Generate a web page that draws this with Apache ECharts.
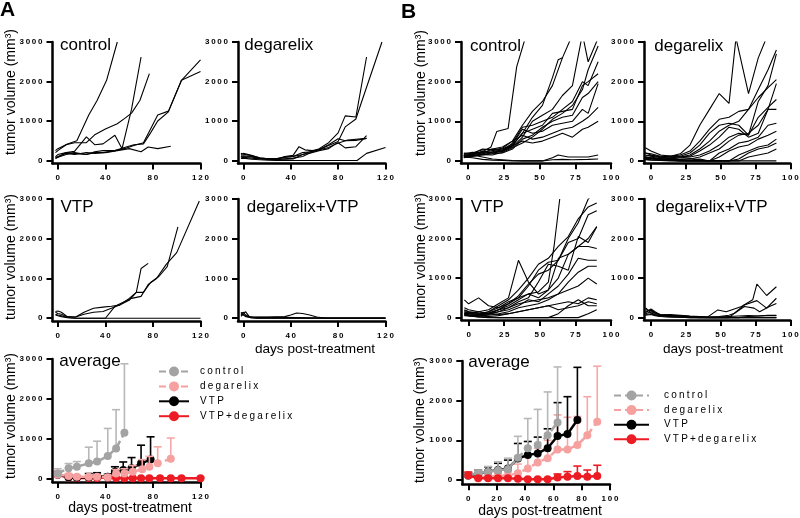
<!DOCTYPE html>
<html><head><meta charset="utf-8">
<script src="https://cdn.jsdelivr.net/npm/echarts@6.0.0/dist/echarts.min.js"></script>
<style>html,body{margin:0;padding:0;background:#fff}#c{width:800px;height:518px}</style>
</head><body><div id="c"></div>
<script>
// ---------------- DATA ----------------
// Panel A individual tumours: each entry = one mouse, [day, volume]
const aControl = [
 [[-2,250],[0,300],[8,420],[16,500],[26,1150],[33,1520],[41,2030],[50,3000]],
 [[-2,200],[0,250],[7,400],[14,450],[24,450],[31,650],[40,800],[50,930],[56,1060],[62,1200],[69,1520],[77,2200]],
 [[-2,100],[0,150],[7,200],[14,230],[24,600],[31,400],[38,420],[48,640],[54,300],[62,1300],[70,2620]],
 [[-2,80],[0,100],[7,180],[14,150],[24,200],[31,180],[38,200],[48,250],[56,300],[64,380],[72,450],[78,800],[84,1150],[93,1250],[104,2030],[120,2550]],
 [[-2,50],[0,80],[7,150],[14,200],[24,150],[31,220],[38,250],[48,250],[56,330],[64,400],[72,420],[78,700],[84,1000],[93,1230],[104,2030],[120,2250]],
 [[-2,60],[0,80],[7,200],[14,180],[24,150],[31,200],[40,200],[50,250],[60,300],[70,220],[76,340],[84,300],[95,360]]
];
const aDegarelix = [
 [[-2,150],[0,180],[7,130],[14,60],[21,40],[28,40],[35,80],[42,100],[50,200],[57,220],[64,300],[72,450],[80,700],[86,1130],[95,1100],[104,2620]],
 [[-2,100],[0,120],[7,100],[14,50],[21,40],[28,50],[35,90],[42,100],[50,150],[57,230],[64,280],[72,380],[80,480],[86,850],[95,1050],[100,1500],[117,3000]],
 [[-2,180],[0,160],[7,120],[14,70],[21,40],[28,30],[35,100],[42,130],[47,350],[52,270],[58,250],[64,280],[72,400],[80,550],[86,500],[95,510],[104,560]],
 [[-2,60],[0,80],[7,60],[14,40],[21,30],[28,20],[35,40],[42,60],[50,100],[57,200],[64,270],[72,330],[80,450],[86,320],[95,350],[104,630]],
 [[-2,120],[0,100],[7,90],[14,50],[21,40],[28,40],[35,30],[42,40],[50,150],[57,190],[64,250],[72,300],[78,420],[88,520],[104,560]],
 [[-2,50],[0,60],[7,30],[14,20],[21,10],[28,0],[96,0],[104,180],[120,330]]
];
const aVtp = [
 [[-2,170],[0,180],[3,150],[8,40],[15,30],[22,150],[30,250],[38,280],[45,300],[52,330],[60,500],[66,650],[70,1250],[76,1380]],
 [[-2,150],[0,120],[3,100],[8,30],[15,30],[22,100],[30,150],[38,170],[45,250],[52,330],[60,450],[66,650],[72,650],[78,900],[85,1050],[92,1300],[101,2300]],
 [[-2,100],[0,80],[3,60],[8,20],[15,0],[40,0],[48,300],[55,400],[62,500],[70,550],[76,850],[83,1000],[91,1350],[100,1650],[119,2950]],
 [[-2,80],[0,60],[3,40],[8,10],[15,0],[120,0]]
];
const aCombo = [
 [[-2,120],[0,150],[2,80],[6,30],[20,30],[35,40],[40,80],[45,130],[50,120],[56,80],[62,30],[70,0],[120,0]],
 [[-2,80],[0,130],[2,160],[5,40],[10,20],[30,20],[60,10],[120,10]],
 [[-2,50],[0,100],[2,60],[6,10],[12,0],[120,0]],
 [[-2,150],[0,80],[2,40],[7,10],[12,0],[120,0]]
];
// Panel B individual tumours
const bControl = [
 [[-3,130],[3,170],[10,230],[16,350],[20,740],[28,820],[34,2380],[40,3100]],
 [[-3,120],[3,160],[10,200],[17,220],[24,260],[31,380],[38,700],[45,1100],[52,1400],[59,2100],[63,2550],[66,2600]],
 [[-3,200],[3,180],[10,300],[17,280],[24,320],[31,500],[38,900],[45,1250],[52,1500],[59,1900],[66,2600],[72,3100]],
 [[-3,100],[3,150],[10,250],[17,200],[24,250],[31,350],[38,600],[45,1000],[52,1150],[59,1300],[66,1650],[73,1900],[80,3200],[84,2500],[91,3100]],
 [[-3,180],[3,220],[10,200],[17,300],[24,250],[31,450],[38,850],[45,900],[52,1000],[59,1100],[66,1300],[73,1500],[80,2000],[84,1900],[91,2500]],
 [[-3,150],[3,130],[10,180],[17,230],[24,280],[31,400],[38,700],[45,800],[52,900],[59,1200],[66,1250],[73,1300],[80,1900],[84,2000],[91,2200]],
 [[-3,80],[3,120],[10,150],[17,180],[24,200],[31,300],[38,550],[45,650],[52,850],[59,1000],[66,1100],[73,1150],[80,1600],[84,1700],[91,2000]],
 [[-3,130],[3,180],[10,220],[17,260],[24,300],[31,420],[38,800],[45,700],[52,750],[59,900],[66,950],[73,1000],[80,1300],[84,1200],[91,1950]],
 [[-3,160],[3,200],[10,280],[17,300],[24,350],[31,500],[38,650],[45,550],[52,600],[59,700],[66,800],[73,850],[80,1000],[84,1100],[91,1350]],
 [[-3,110],[3,140],[10,170],[17,200],[24,240],[31,380],[38,500],[45,450],[52,500],[59,600],[66,700],[73,600],[80,800],[84,850],[91,1000]],
 [[-3,90],[3,110],[10,160],[17,150],[24,220],[31,330],[38,450],[45,600],[52,800],[59,1050],[66,1200],[73,1400],[80,1800],[84,2300],[91,2900]],
 [[-3,140],[3,150],[10,100],[17,50],[24,30],[31,10],[38,0],[45,0],[52,0],[59,80],[63,150],[70,100],[77,100],[84,100],[91,150]],
 [[-3,100],[3,80],[10,40],[17,20],[24,10],[31,0],[38,0],[52,0],[59,30],[66,40],[73,30],[84,40],[91,50]]
];
const bDegarelix = [
 [[-4,200],[0,150],[7,100],[14,120],[21,180],[28,400],[35,900],[42,1300],[49,1700],[56,1450],[61,3100],[70,1700],[77,2600],[84,3200]],
 [[-4,330],[0,250],[7,150],[14,120],[21,150],[28,250],[35,500],[42,800],[49,1050],[56,1100],[63,1250],[70,1300],[77,1800],[84,2300],[90,2800]],
 [[-4,150],[0,120],[7,80],[14,100],[21,120],[28,200],[35,400],[42,700],[49,900],[56,950],[63,900],[70,650],[77,1500],[84,1900],[90,2700]],
 [[-4,200],[0,180],[7,120],[14,100],[21,100],[28,150],[35,300],[42,500],[49,750],[56,900],[63,1000],[70,1300],[77,1600],[84,1850],[90,2050]],
 [[-4,100],[0,80],[7,60],[14,80],[21,100],[28,120],[35,250],[42,400],[49,600],[56,850],[63,800],[70,600],[77,700],[84,1300],[90,1950]],
 [[-4,120],[0,150],[7,100],[14,50],[21,80],[28,100],[35,150],[42,250],[49,400],[56,600],[63,700],[70,650],[77,1100],[84,1350],[90,1550]],
 [[-4,80],[0,100],[7,50],[14,60],[21,40],[28,50],[35,100],[42,200],[49,300],[56,500],[63,650],[70,700],[77,900],[84,1300],[90,1300]],
 [[-4,60],[0,50],[7,40],[14,30],[21,20],[28,20],[35,50],[42,0],[49,200],[56,300],[63,450],[70,500],[77,600],[84,900],[90,950]],
 [[-4,50],[0,60],[7,30],[14,20],[21,10],[28,0],[42,0],[49,100],[56,250],[63,350],[70,400],[77,550],[84,650],[90,750]],
 [[-4,90],[0,70],[7,50],[14,30],[21,40],[28,60],[35,30],[42,0],[56,0],[63,150],[70,250],[77,350],[84,400],[90,550]],
 [[-4,40],[0,30],[7,20],[14,10],[21,0],[56,0],[63,50],[70,200],[77,300],[84,350],[90,450]],
 [[-4,70],[0,60],[7,30],[14,20],[21,0],[63,0],[70,100],[77,150],[84,200],[90,300]],
 [[-4,30],[0,20],[7,10],[14,0],[90,0]]
];
const bVtp = [
 [[-3,100],[0,120],[7,150],[14,200],[21,350],[28,500],[35,1450],[42,900],[49,600],[56,700],[63,1500],[70,1600],[77,1800],[84,2000],[90,2300]],
 [[-3,150],[0,100],[7,80],[14,150],[21,250],[28,350],[35,500],[42,600],[49,650],[56,900],[60,1800],[64,3000]],
 [[-3,450],[0,350],[7,500],[14,300],[21,250],[28,400],[35,500],[42,800],[49,1200],[56,1400],[63,1450],[70,2000],[77,2400],[84,3000],[90,3200]],
 [[-3,200],[0,150],[7,100],[14,150],[21,300],[28,450],[35,700],[42,1000],[49,1350],[56,1500],[63,1800],[70,2050],[77,2500],[84,2800],[90,2900]],
 [[-3,150],[0,120],[7,80],[14,100],[21,200],[28,350],[35,550],[42,850],[49,1100],[56,1200],[63,1450],[70,1900],[77,2000],[84,2600],[90,2700]],
 [[-3,100],[0,80],[7,60],[14,100],[21,150],[28,250],[35,400],[42,500],[49,900],[56,1350],[63,1300],[70,1200],[77,2050],[84,1900],[90,2300]],
 [[-3,120],[0,100],[7,80],[14,120],[21,200],[28,300],[35,450],[42,600],[49,500],[56,700],[63,1000],[70,1600],[77,1800],[84,1800],[90,1750]],
 [[-3,80],[0,60],[7,50],[14,80],[21,150],[28,200],[35,300],[42,450],[49,400],[56,600],[63,800],[70,1100],[77,1500],[84,1450],[90,1450]],
 [[-3,180],[0,150],[7,120],[14,100],[21,200],[28,250],[35,350],[42,400],[49,450],[56,500],[63,600],[70,900],[77,1150],[84,1300],[90,1300]],
 [[-3,60],[0,50],[7,40],[14,60],[21,100],[28,150],[35,250],[42,300],[49,350],[56,450],[63,600],[70,700],[77,800],[84,1000],[90,850]],
 [[-3,250],[0,200],[7,150],[14,100],[21,80],[28,100],[35,150],[42,200],[49,250],[56,300],[63,350],[70,400],[77,350],[84,500],[90,450]],
 [[-3,100],[0,60],[7,40],[14,30],[21,50],[28,100],[35,150],[42,200],[49,250],[56,300],[63,200],[70,250],[77,300],[84,400],[90,350]],
 [[-3,50],[0,40],[7,20],[14,10],[21,0],[56,0],[63,100],[70,300],[77,450],[84,300],[90,300]],
 [[-3,80],[0,50],[7,20],[14,0],[77,0],[84,100],[90,200]]
];
const bCombo = [
 [[-4,120],[0,220],[3,150],[7,60],[14,50],[21,40],[28,20],[35,10],[40,0],[48,195],[54,150],[65,280],[73,450],[76,850],[83,560],[90,780]],
 [[-4,200],[0,180],[3,100],[7,80],[14,60],[21,50],[28,30],[35,20],[42,0],[56,0],[67,320],[76,430],[83,240],[90,490]],
 [[-4,100],[0,150],[3,120],[7,70],[14,80],[21,60],[28,40],[35,30],[42,20],[49,30],[56,60],[60,110],[67,280],[74,240],[78,150],[85,280],[90,360]],
 [[-4,80],[0,100],[3,60],[7,30],[14,20],[21,10],[28,0],[63,0],[70,30],[77,40],[84,50],[90,50]],
 [[-4,150],[0,200],[3,120],[7,50],[14,30],[21,20],[28,10],[35,0],[90,0]],
 [[-4,60],[0,80],[3,50],[7,30],[14,20],[21,10],[28,0],[90,0]],
 [[-4,250],[0,120],[3,80],[7,40],[14,60],[21,40],[28,30],[35,20],[42,10],[49,20],[56,30],[63,40],[70,50],[77,40],[84,60],[90,60]]
];
// Panel A averages (mean and top of error bar)
const aAvgControlDays  = [0, 9, 16, 26, 33, 42, 49, 56];
const aAvgControlMean  = [130, 260, 300, 385, 430, 570, 760, 1150];
const aAvgControlUpper = [250, 380, 430, 790, 940, 1260, 1730, 2880];
const aAvgDegDays  = [0, 9, 16, 26, 33, 42, 49, 56, 63, 71, 77, 84, 95];
const aAvgDegMean  = [100, 70, 50, 50, 50, 40, 130, 130, 175, 235, 300, 385, 500];
const aAvgDegUpper = [200, 130, 90, 100, 90, 90, 230, 250, 330, 480, 560, 800, 1020];
const aAvgVtpDays  = [0, 9, 16, 26, 33, 42, 48, 55, 62, 70, 78];
const aAvgVtpMean  = [100, 40, 30, 40, 60, 50, 175, 220, 260, 385, 480];
const aAvgVtpUpper = [180, 90, 70, 130, 150, 110, 300, 420, 530, 840, 1050];
const aAvgComboDays  = [0, 9, 16, 26, 33, 42, 49, 56, 63, 70, 77, 86, 95, 104, 120];
const aAvgComboMean  = [100, 30, 20, 20, 20, 30, 20, 15, 15, 15, 15, 15, 15, 15, 15];
const aAvgComboUpper = [170, 60, 40, 40, 40, 60, 40, 30, 30, 30, 30, 30, 30, 30, 30];
// Panel B averages
const bAvgControlDays  = [0, 7, 14, 21, 28, 35, 42, 49, 56, 63];
const bAvgControlMean  = [110, 170, 200, 240, 270, 560, 800, 880, 1130, 1450];
const bAvgControlUpper = [180, 250, 340, 460, 550, 1100, 1550, 1780, 2220, 2850];
const bAvgDegDays  = [0, 7, 14, 21, 28, 35, 42, 49, 56, 63, 70, 77, 84, 91];
const bAvgDegMean  = [110, 80, 80, 100, 110, 170, 290, 440, 550, 770, 770, 880, 1130, 1470];
const bAvgDegUpper = [180, 130, 130, 160, 200, 400, 590, 800, 1000, 1640, 1580, 1600, 2100, 2870];
const bAvgVtpDays  = [0, 7, 14, 21, 28, 35, 42, 49, 56, 63, 70, 77];
const bAvgVtpMean  = [110, 150, 210, 250, 290, 540, 630, 670, 800, 1110, 1160, 1510];
const bAvgVtpUpper = [180, 250, 330, 420, 500, 920, 970, 1080, 1290, 1950, 2100, 2840];
const bAvgComboDays  = [0, 7, 14, 21, 28, 35, 42, 49, 56, 63, 70, 77, 84, 91];
const bAvgComboMean  = [110, 40, 40, 40, 40, 30, 20, 20, 20, 60, 80, 100, 80, 100];
const bAvgComboUpper = [200, 80, 70, 70, 60, 50, 40, 40, 40, 150, 210, 350, 250, 370];
// Tick labels
const ticksAx = [0, 40, 80, 120];
const ticksBx = [0, 25, 50, 75, 100];
const ticksBavgX = [0, 20, 40, 60, 80, 100];
const ticksY = [0, 1000, 2000, 3000];
const legendNames = ['control', 'degarelix', 'VTP', 'VTP+degarelix'];

// ---------------- letter spacing for tick / legend text ----------------
(function(){
  const P = CanvasRenderingContext2D.prototype;
  const orig = P.fillText;
  P.fillText = function(t, x, y, m) {
    const has = ('letterSpacing' in this);
    if (has && this.font && this.font.indexOf('spacedtxt') >= 0) {
      const mm = this.font.match(/([\d.]+)px/);
      const size = mm ? parseFloat(mm[1]) : 10;
      const sp = size * 0.22;
      this.letterSpacing = sp.toFixed(2) + 'px';
      let xx = x;
      if (this.textAlign === 'right' || this.textAlign === 'end') xx = x + sp;
      else if (this.textAlign === 'center') xx = x + sp / 2;
      const r = (m === undefined) ? orig.call(this, t, xx, y) : orig.call(this, t, xx, y, m);
      this.letterSpacing = '0px';
      return r;
    }
    if (has) this.letterSpacing = '0px';
    return (m === undefined) ? orig.call(this, t, x, y) : orig.call(this, t, x, y, m);
  };
})();

const SPACED = "'Liberation Sans', spacedtxt, sans-serif";
const PLAIN = "'Liberation Sans', sans-serif";
const COL = {control: '#a3a3a3', degarelix: '#f6a0a0', vtp: '#000000', combo: '#ec1c24'};
const ERRCOL = {control: '#b8b8b8', degarelix: '#f7a7a7', vtp: '#000000', combo: '#ec1c24'};

// ---------------- layout of panels ----------------
const panels = [
  {left: 52.5, top: 42, width: 148, height: 121.5, xmin: -4.5, xmax: 120, ymin: -76, xt: ticksAx, lines: aControl},
  {left: 238, top: 42, width: 147.5, height: 121.5, xmin: -4.5, xmax: 120, ymin: -76, xt: ticksAx, lines: aDegarelix},
  {left: 52.5, top: 199, width: 148, height: 122, xmin: -4.5, xmax: 120, ymin: -70, xt: ticksAx, lines: aVtp},
  {left: 238, top: 199, width: 147.5, height: 122, xmin: -4.5, xmax: 120, ymin: -70, xt: ticksAx, lines: aCombo},
  {left: 52.5, top: 359, width: 148, height: 123, xmin: -4.5, xmax: 120, ymin: -82, xt: ticksAx, lines: []},
  {left: 461, top: 42, width: 150, height: 121.3, xmin: -5, xmax: 100, ymin: -60, xt: ticksBx, lines: bControl},
  {left: 644, top: 42, width: 149, height: 121.3, xmin: -5, xmax: 100, ymin: -60, xt: ticksBx, lines: bDegarelix},
  {left: 461.5, top: 199, width: 149.5, height: 121, xmin: -5, xmax: 100, ymin: -60, xt: ticksBx, lines: bVtp},
  {left: 644, top: 199, width: 149, height: 121, xmin: -5, xmax: 100, ymin: -60, xt: ticksBx, lines: bCombo},
  {left: 462.3, top: 361, width: 147.7, height: 123.3, xmin: -4.2, xmax: 100, ymin: -110, xt: ticksBavgX, lines: []}
];

const grid = [], xAxis = [], yAxis = [], series = [];
const labelStyle = {fontSize: 8, fontWeight: 'bold', fontFamily: SPACED, color: '#000'};
panels.forEach((p, i) => {
  grid.push({left: p.left, top: p.top, width: p.width, height: p.height, containLabel: false});
  xAxis.push({
    type: 'value', gridIndex: i, min: p.xmin, max: p.xmax,
    axisLine: {onZero: false, lineStyle: {color: '#000', width: 2.5}},
    axisTick: {show: true, length: 6, lineStyle: {color: '#000', width: 2}, customValues: p.xt},
    axisLabel: Object.assign({customValues: p.xt, margin: 10.5, formatter: v => String(v)}, labelStyle),
    splitLine: {show: false}
  });
  yAxis.push({
    type: 'value', gridIndex: i, min: p.ymin, max: 3000,
    axisLine: {onZero: false, lineStyle: {color: '#000', width: 2.5}},
    axisTick: {show: true, length: 6, lineStyle: {color: '#000', width: 2}, customValues: ticksY},
    axisLabel: Object.assign({customValues: ticksY, margin: 10, formatter: v => String(v)}, labelStyle),
    splitLine: {show: false}
  });
  p.lines.forEach((ln, k) => {
    series.push({
      type: 'line', name: 'mouse ' + i + '-' + k, xAxisIndex: i, yAxisIndex: i,
      data: ln, symbol: 'none', silent: true, clip: true, z: 2,
      lineStyle: {color: '#000', width: 1.1}
    });
  });
});

function avgSeries(gi, name, key, days, mean, upper, dashed, z) {
  const pts = days.map((d, i) => [d, mean[i]]);
  const err = days.map((d, i) => [d, mean[i], upper[i]]);
  const ec = ERRCOL[key];
  series.push({
    type: 'custom', name: name + ' error', xAxisIndex: gi, yAxisIndex: gi, z: z, silent: true,
    data: err,
    renderItem: function (params, api) {
      const x = api.value(0), m = api.value(1), u = api.value(2);
      const p0 = api.coord([x, m]), p1 = api.coord([x, u]);
      const w = 4;
      return {type: 'group', children: [
        {type: 'line', shape: {x1: p0[0], y1: p0[1], x2: p1[0], y2: p1[1]}, style: {stroke: ec, lineWidth: 1.6}},
        {type: 'line', shape: {x1: p1[0] - w, y1: p1[1], x2: p1[0] + w, y2: p1[1]}, style: {stroke: ec, lineWidth: 1.6}}
      ]};
    }
  });
  series.push({
    type: 'line', name: name, xAxisIndex: gi, yAxisIndex: gi, z: z, data: pts,
    symbol: 'circle', symbolSize: 8, showSymbol: true, showAllSymbol: true,
    itemStyle: {color: COL[key]},
    lineStyle: {color: COL[key], width: 2.5, type: dashed ? [7, 4] : 'solid'}
  });
}
// Panel A average (bottom to top)
avgSeries(4, 'VTP+degarelix', 'combo', aAvgComboDays, aAvgComboMean, aAvgComboUpper, false, 3);
avgSeries(4, 'VTP', 'vtp', aAvgVtpDays, aAvgVtpMean, aAvgVtpUpper, false, 4);
avgSeries(4, 'degarelix', 'degarelix', aAvgDegDays, aAvgDegMean, aAvgDegUpper, true, 5);
avgSeries(4, 'control', 'control', aAvgControlDays, aAvgControlMean, aAvgControlUpper, true, 6);
// Panel B average
avgSeries(9, 'degarelix', 'degarelix', bAvgDegDays, bAvgDegMean, bAvgDegUpper, true, 3);
avgSeries(9, 'VTP', 'vtp', bAvgVtpDays, bAvgVtpMean, bAvgVtpUpper, false, 4);
avgSeries(9, 'control', 'control', bAvgControlDays, bAvgControlMean, bAvgControlUpper, true, 5);
avgSeries(9, 'VTP+degarelix', 'combo', bAvgComboDays, bAvgComboMean, bAvgComboUpper, false, 6);

function txt(x, y, text, size, opts) {
  opts = opts || {};
  return {
    type: 'text', x: x, y: y, rotation: opts.rot || 0, silent: true, z: 10,
    style: {text: text, fontSize: size, fontFamily: PLAIN, fontWeight: opts.bold ? 'bold' : 'normal',
            fill: '#000', align: opts.align || 'left', verticalAlign: 'middle'}
  };
}
const yName = 'tumor volume (mm\u00B3)';
const graphic = [
  txt(0, 10, 'A', 21, {bold: true}),
  txt(401, 12, 'B', 21, {bold: true}),
  txt(60, 45.5, 'control', 17),
  txt(244.3, 45.5, 'degarelix', 17),
  txt(60.5, 207.3, 'VTP', 17),
  txt(246.7, 207.3, 'degarelix+VTP', 17),
  txt(59.3, 361.7, 'average', 17),
  txt(470, 46, 'control', 17),
  txt(654.3, 46, 'degarelix', 17),
  txt(470.7, 207.3, 'VTP', 17),
  txt(655.7, 207.3, 'degarelix+VTP', 17),
  txt(468.3, 362, 'average', 17),
  txt(11, 92, yName, 14, {rot: Math.PI / 2, align: 'center'}),
  txt(11, 257, yName, 14, {rot: Math.PI / 2, align: 'center'}),
  txt(11, 416, yName, 14, {rot: Math.PI / 2, align: 'center'}),
  txt(421, 93, yName, 14, {rot: Math.PI / 2, align: 'center'}),
  txt(421, 256, yName, 14, {rot: Math.PI / 2, align: 'center'}),
  txt(420, 420, yName, 14, {rot: Math.PI / 2, align: 'center'}),
  txt(315, 349, 'days post-treatment', 13.6, {align: 'center'}),
  txt(723, 349, 'days post-treatment', 13.6, {align: 'center'}),
  txt(130, 508, 'days post-treatment', 14, {align: 'center'}),
  txt(540, 511, 'days post-treatment', 14, {align: 'center'})
];

const legendText = {fontSize: 10, fontFamily: SPACED, color: '#000'};
const chart = echarts.init(document.getElementById('c'), null, {renderer: 'canvas'});
chart.setOption({
  animation: false,
  backgroundColor: '#fff',
  grid: grid, xAxis: xAxis, yAxis: yAxis, series: series, graphic: graphic,
  legend: [
    {data: legendNames, orient: 'vertical', left: 158, top: 366.5, itemWidth: 30, itemHeight: 12.5, itemGap: 4.9,
     padding: 0, selectedMode: false, textStyle: Object.assign({padding: [0, 0, 0, 6]}, legendText)},
    {data: legendNames, orient: 'vertical', left: 613, top: 390.5, itemWidth: 35, itemHeight: 12.5, itemGap: 4.6,
     padding: 0, selectedMode: false, textStyle: Object.assign({padding: [0, 0, 0, 10]}, legendText)}
  ]
});
</script></body></html>
